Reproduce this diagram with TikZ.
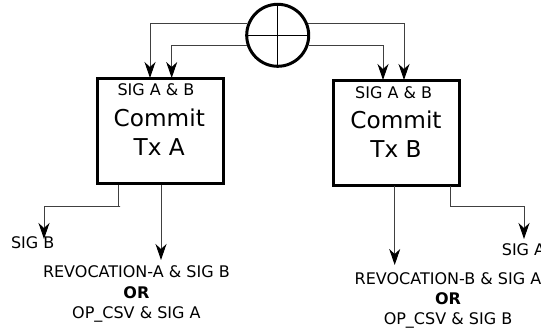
\documentclass[tikz,border=0pt]{standalone}
\usepackage{fontspec}
\setmainfont{DejaVu Sans}
\usetikzlibrary{arrows.meta}
\tikzset{
  x=1pt,y=-1pt,
  txbox/.style={draw=black,line width=3pt,minimum width=126pt,minimum height=105pt,inner sep=0pt},
  conn/.style={draw=black!75,line width=1pt,-{Stealth[length=16pt,width=11pt,inset=5pt,black]}},
  small/.style={font=\fontsize{16}{20.2}\selectfont,inner sep=0pt,align=center},
  big/.style={font=\fontsize{23.2}{29}\selectfont,inner sep=0pt,align=center},
  sumc/.style={circle,draw=black,line width=3pt,minimum size=62pt,inner sep=0pt},
  hair/.style={draw=black,line width=1pt}
}
\begin{document}
\begin{tikzpicture}
\useasboundingbox (0,0) rectangle (541,331);
\node[sumc] (sum) at (277.7,35.3) {};
\draw[hair] (sum.north) -- (sum.south);
\draw[hair] (sum.west) -- (sum.east);
\node[txbox] (boxA) at (160,131.5) {};
\node[txbox] (boxB) at (396.7,133) {};
\node[small,anchor=base] (sigA) at (156,96) {SIG A \& B};
\node[big] (txA) at (159.3,132.5) {Commit\\Tx A};
\node[small,anchor=base] (sigB) at (393.7,98.7) {SIG A \& B};
\node[big] (txB) at (396,134) {Commit\\Tx B};
\node[small,anchor=base] (outSigB) at (32.7,249) {SIG B};
\node[small,anchor=base] (outSigA) at (523.5,255) {SIG A};
\node[small] (revA) at (136.4,294) {REVOCATION-A \& SIG B\\\textbf{OR}\\OP\_CSV \& SIG A};
\node[small] (revB) at (448,300.3) {REVOCATION-B \& SIG A\\\textbf{OR}\\OP\_CSV \& SIG B};
\coordinate (a1) at (150,78);
\coordinate (a2) at (171.7,78);
\coordinate (b1) at (383,80);
\coordinate (b2) at (404,80);
\draw[conn] (sum.159) -| (a1);
\draw[conn] (sum.198) -| (a2);
\draw[conn] (sum.-18) -| (b1);
\draw[conn] (sum.21) -| (b2);
\coordinate (la) at (118.3,185);
\coordinate (ea) at (44,239);
\coordinate (ma) at (161,185);
\coordinate (na) at (161,260);
\coordinate (mb) at (394.7,186);
\coordinate (nb) at (394.7,265);
\coordinate (lb) at (450,186);
\coordinate (eb) at (524,239);
\draw[conn] (la) |- (120,206.7) -| (ea);
\draw[conn] (ma) -- (na);
\draw[conn] (mb) -- (nb);
\draw[conn] (lb) |- (500,206.7) -| (eb);
\end{tikzpicture}
\end{document}
